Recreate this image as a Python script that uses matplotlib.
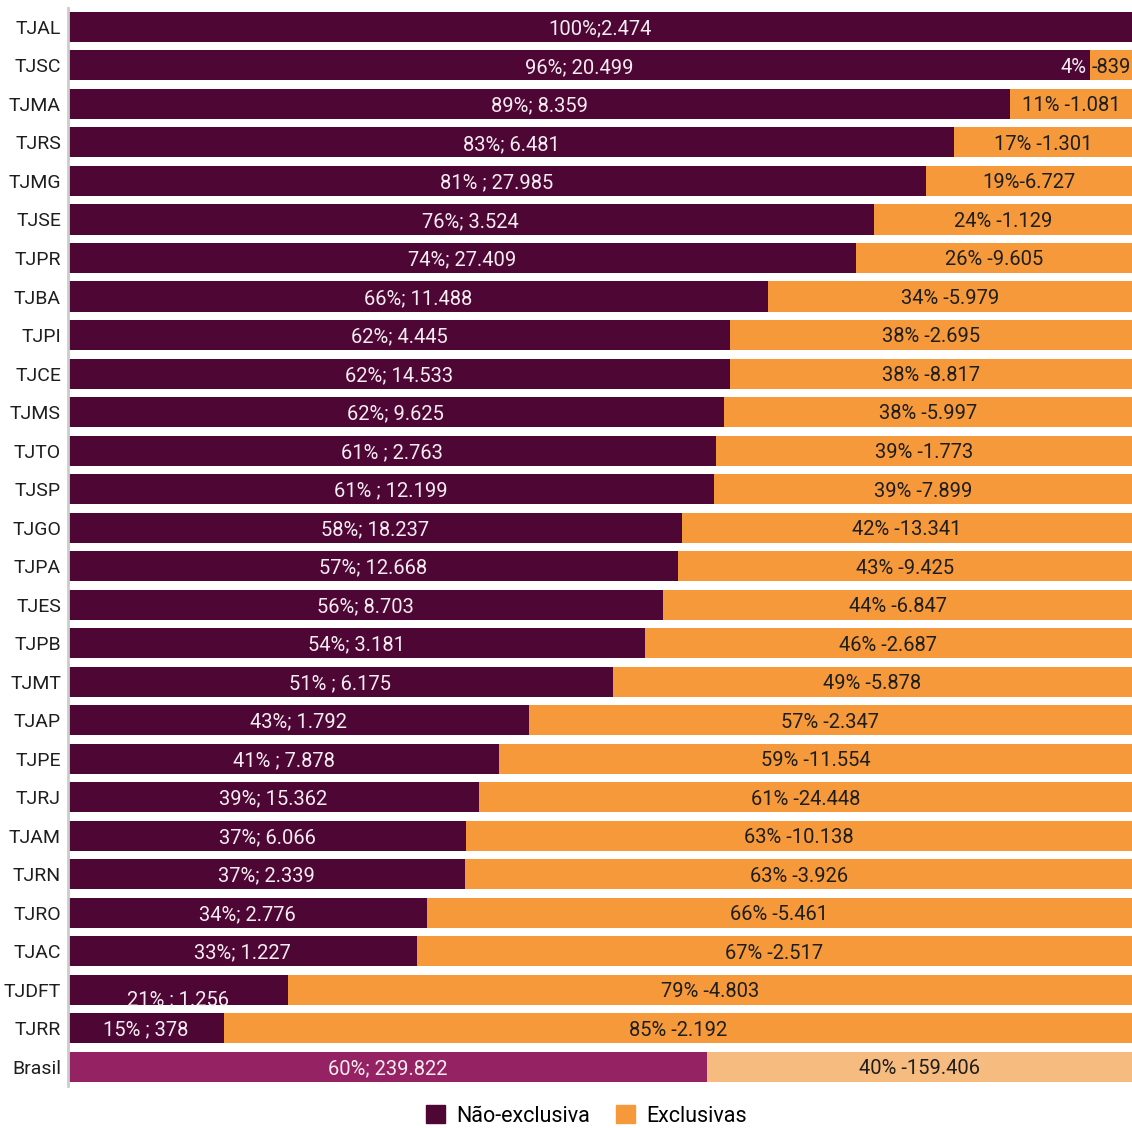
"""
Stacked 100% bar chart: non-exclusive vs exclusive units per court.
"""

import matplotlib.pyplot as plt
import numpy as np
from matplotlib.patches import Patch

# Data (top to bottom)
courts = ['TJAL', 'TJSC', 'TJMA', 'TJRS', 'TJMG', 'TJSE', 'TJPR', 'TJBA', 'TJPI',
          'TJCE', 'TJMS', 'TJTO', 'TJSP', 'TJGO', 'TJPA', 'TJES', 'TJPB', 'TJMT',
          'TJAP', 'TJPE', 'TJRJ', 'TJAM', 'TJRN', 'TJRO', 'TJAC', 'TJDFT', 'TJRR',
          'Brasil']
nao_exclusiva = [2474, 20499, 8359, 6481, 27985, 3524, 27409, 11488, 4445,
                 14533, 9625, 2763, 12199, 18237, 12668, 8703, 3181, 6175,
                 1792, 7878, 15362, 6066, 2339, 2776, 1227, 1256, 378,
                 239822]
exclusivas = [0, 839, 1081, 1301, 6727, 1129, 9605, 5979, 2695,
              8817, 5997, 1773, 7899, 13341, 9425, 6847, 2687, 5878,
              2347, 11554, 24448, 10138, 3926, 5461, 2517, 4803, 2192,
              159406]
labels_nao = ['100%;2.474', '96%; 20.499', '89%; 8.359', '83%; 6.481', '81% ; 27.985',
              '76%; 3.524', '74%; 27.409', '66%; 11.488', '62%; 4.445', '62%; 14.533',
              '62%; 9.625', '61% ; 2.763', '61% ; 12.199', '58%; 18.237', '57%; 12.668',
              '56%; 8.703', '54%; 3.181', '51% ; 6.175', '43%; 1.792', '41% ; 7.878',
              '39%; 15.362', '37%; 6.066', '37%; 2.339', '34%; 2.776', '33%; 1.227',
              '21% ; 1.256', '15% ; 378', '60%; 239.822']
labels_exc = ['', '-839', '11% -1.081', '17% -1.301', '19%-6.727', '24% -1.129',
              '26% -9.605', '34% -5.979', '38% -2.695', '38% -8.817', '38% -5.997',
              '39% -1.773', '39% -7.899', '42% -13.341', '43% -9.425', '44% -6.847',
              '46% -2.687', '49% -5.878', '57% -2.347', '59% -11.554', '61% -24.448',
              '63% -10.138', '63% -3.926', '66% -5.461', '67% -2.517', '79% -4.803',
              '85% -2.192', '40% -159.406']

# Colors
c_nao = '#4E0735'
c_exc = '#F5993A'
c_nao_br = '#952363'
c_exc_br = '#F6BB7E'
c_text_dark = '#1E1E1E'
c_text_light = '#F4ECF1'

plt.rcParams['font.family'] = ['Roboto', 'DejaVu Sans']

nao = np.array(nao_exclusiva, dtype=float)
exc = np.array(exclusivas, dtype=float)
total = nao + exc
share_nao = nao / total * 100
share_exc = exc / total * 100

n = len(courts)
y = np.arange(n)[::-1]

fig = plt.figure(figsize=(11.32, 11.28), dpi=100)
ax = fig.add_axes([0.060, 0.0372, 0.940, 0.956])

colors_nao = [c_nao] * (n - 1) + [c_nao_br]
colors_exc = [c_exc] * (n - 1) + [c_exc_br]
ax.barh(y, share_nao, height=0.78, color=colors_nao)
ax.barh(y, share_exc, left=share_nao, height=0.78, color=colors_exc)

fs = 14.5
ty = -0.05  # labels sit a bit low in the bars
for i in range(n):
    # non-exclusive label, centered in the purple part
    dy = ty
    if courts[i] == 'TJDFT':
        dy = -0.25  # label sits low in the original
    ax.text(share_nao[i] / 2, y[i] + dy, labels_nao[i], ha='center', va='center',
            fontsize=fs, color=c_text_light)
    if not labels_exc[i]:
        continue
    if courts[i] == 'TJSC':
        # narrow segment: percentage inside purple, value inside orange
        ax.text(share_nao[i] - 0.3, y[i] + ty, '4%', ha='right', va='center',
                fontsize=fs, color=c_text_light)
        ax.text(share_nao[i] + 0.1, y[i] + ty, labels_exc[i], ha='left', va='center',
                fontsize=fs, color=c_text_dark)
    else:
        ax.text(share_nao[i] + share_exc[i] / 2, y[i] + ty, labels_exc[i], ha='center',
                va='center', fontsize=fs, color=c_text_dark)

ax.set_xlim(0, 100)
ax.set_ylim(-0.5, n - 0.5)
ax.set_yticks(y)
ax.set_yticklabels(courts, fontsize=14, color=c_text_dark)
ax.tick_params(axis='y', length=0, pad=5)
ax.set_xticks([])
for side in ['top', 'right', 'bottom']:
    ax.spines[side].set_visible(False)
ax.spines['left'].set_color('#CCCCCC')
ax.spines['left'].set_linewidth(2)

handles = [Patch(color=c_nao, label='Não-exclusiva'),
           Patch(color=c_exc, label='Exclusivas')]
fig.legend(handles=handles, loc='lower center', bbox_to_anchor=(0.518, -0.016),
           ncol=2, frameon=False, fontsize=15.5, handlelength=0.9, handleheight=0.9,
           handletextpad=0.5, columnspacing=1.2)

fig.savefig('out.png', dpi=100)
